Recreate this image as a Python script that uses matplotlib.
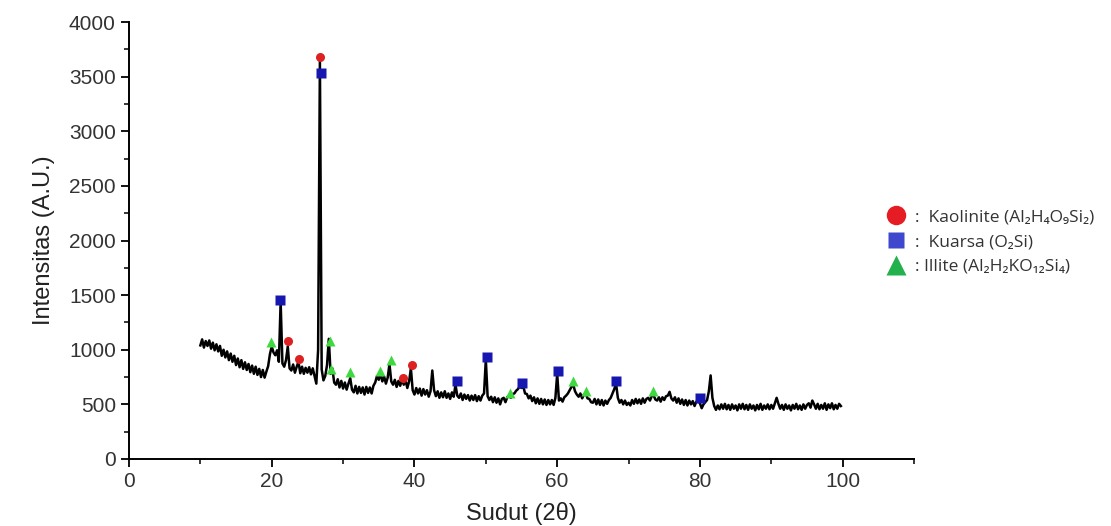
import numpy as np
import matplotlib
matplotlib.use("Agg")
import matplotlib.pyplot as plt
from matplotlib.lines import Line2D
from matplotlib.ticker import MultipleLocator

# XRD pattern: 2theta from 10.0 in 0.25 steps, one row per 5 degrees
start_angle = 10.0
step_angle = 0.25
intensity = [
    1040, 1095, 1020, 1080, 1035, 1085, 1010, 1065, 995, 1050, 985, 1035, 945, 1000, 930, 985, 905, 965, 890, 945,
    860, 920, 840, 905, 825, 885, 815, 870, 795, 855, 780, 845, 770, 825, 750, 815, 745, 800, 850, 960,
    1030, 975, 950, 995, 890, 1440, 875, 845, 905, 1030, 830, 810, 865, 790, 845, 890, 785, 845, 780, 835,
    790, 840, 775, 830, 760, 690, 1000, 3650, 820, 720, 760, 860, 1100, 780, 830, 700, 680, 730, 655, 715,
    645, 700, 635, 690, 740, 635, 610, 670, 600, 660, 605, 655, 590, 660, 605, 655, 600, 670, 700, 760,
    725, 780, 710, 755, 690, 745, 870, 710, 680, 725, 660, 715, 670, 730, 680, 720, 650, 710, 830, 630,
    590, 650, 600, 645, 580, 640, 590, 630, 570, 620, 810, 630, 575, 620, 560, 610, 565, 620, 560, 600,
    550, 610, 570, 680, 580, 560, 600, 540, 590, 550, 585, 535, 580, 540, 585, 530, 575, 535, 580, 600,
    910, 575, 540, 570, 520, 565, 515, 555, 500, 550, 560, 520, 565, 580, 560, 595, 600, 625, 640, 665,
    650, 665, 600, 595, 555, 580, 530, 565, 510, 555, 505, 550, 500, 545, 495, 540, 500, 540, 495, 560,
    780, 535, 555, 525, 565, 580, 600, 630, 660, 680, 620, 590, 570, 600, 555, 590, 600, 555, 550, 520,
    515, 550, 500, 545, 495, 540, 490, 535, 505, 540, 560, 600, 640, 690, 560, 515, 540, 500, 535, 495,
    515, 490, 540, 505, 550, 510, 545, 505, 555, 515, 550, 560, 535, 575, 585, 545, 535, 565, 525, 565,
    540, 575, 580, 615, 555, 535, 565, 515, 555, 505, 545, 495, 540, 490, 535, 500, 530, 485, 525, 530,
    510, 465, 500, 520, 540, 620, 765, 560, 485, 450, 490, 455, 500, 460, 505, 455, 495, 450, 500, 460,
    490, 445, 500, 460, 505, 455, 495, 450, 500, 460, 490, 445, 495, 455, 505, 450, 490, 460, 500, 455,
    495, 460, 510, 560, 505, 460, 495, 450, 500, 460, 490, 445, 495, 460, 505, 455, 490, 450, 500, 460,
    495, 510, 470, 535, 500, 460, 505, 455, 495, 460, 510, 450, 500, 465, 510, 455, 495, 460, 505, 485,
]
angle = start_angle + step_angle * np.arange(len(intensity))

# phase markers (2theta, intensity)
kaolinite_x = [26.75, 22.27, 23.8, 38.4, 39.6]
kaolinite_y = [3680, 1080, 920, 745, 865]
kuarsa_x = [26.9, 21.15, 45.9, 50.1, 55.1, 60.1, 68.25, 80.05]
kuarsa_y = [3530, 1455, 714, 934, 700, 805, 714, 558]
illite_x = [19.9, 28.15, 28.35, 31.0, 35.2, 36.65, 53.4, 62.2, 64.1, 73.4]
illite_y = [1070, 1080, 826, 796, 810, 906, 600, 714, 626, 618]

legend_labels = [
    ":  Kaolinite (Al\u2082H\u2084O\u2089Si\u2082)",
    ":  Kuarsa (O\u2082Si)",
    ": Illite (Al\u2082H\u2082KO\u2081\u2082Si\u2084)",
]

plt.rcParams["font.family"] = ["Liberation Sans", "DejaVu Sans"]

fig = plt.figure(figsize=(11.11, 5.26), dpi=100)
ax = fig.add_axes([0.1161, 0.1274, 0.7066, 0.8306])

ax.plot(angle, intensity, color="black", lw=1.8, zorder=2)
ax.plot(kaolinite_x, kaolinite_y, "o", color="#dd2020", ms=6.5, mec="none", zorder=3)
ax.plot(kuarsa_x, kuarsa_y, "s", color="#1616b0", ms=6.5, mec="none", zorder=3)
ax.plot(illite_x, illite_y, "^", color="#40d840", ms=7.5, mec="none", zorder=3)

ax.set_xlim(0, 110)
ax.set_ylim(0, 4000)
ax.xaxis.set_major_locator(MultipleLocator(20))
ax.xaxis.set_minor_locator(MultipleLocator(10))
ax.yaxis.set_major_locator(MultipleLocator(500))
ax.yaxis.set_minor_locator(MultipleLocator(250))
ax.set_xticks([0, 20, 40, 60, 80, 100])
for side in ["top", "right"]:
    ax.spines[side].set_visible(False)
for side in ["left", "bottom"]:
    ax.spines[side].set_linewidth(1.4)
ax.tick_params(which="major", direction="out", length=6, width=1.3,
               labelsize=15, labelcolor="#333333")
ax.tick_params(which="minor", direction="out", length=3.5, width=1.1)

ax.set_xlabel("Sudut (2\u03b8)", fontsize=17, color="#222222", labelpad=8)
ax.set_ylabel("Intensitas (A.U.)", fontsize=17, color="#222222", labelpad=10)

handles = [
    Line2D([], [], ls="none", marker="o", color="#e61c24", ms=14, mec="none"),
    Line2D([], [], ls="none", marker="s", color="#3f48cc", ms=12, mec="none"),
    Line2D([], [], ls="none", marker="^", color="#22b14c", ms=14, mec="none"),
]
leg = ax.legend(handles, legend_labels, loc="center left",
                bbox_to_anchor=(0.783, 0.54), bbox_transform=fig.transFigure,
                frameon=False, handlelength=1.2, handletextpad=0.5,
                labelspacing=0.5, prop={"family": ["Open Sans", "DejaVu Sans"], "size": 12.5})
for t in leg.get_texts():
    t.set_color("#333333")

fig.savefig("out.png", dpi=100)
